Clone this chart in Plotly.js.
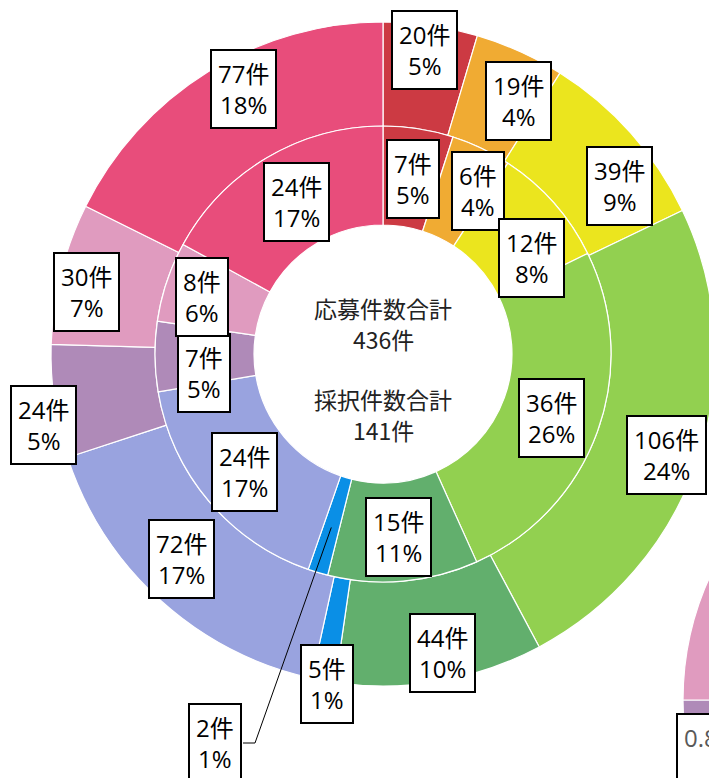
<!DOCTYPE html>
<html>
<head>
<meta charset="utf-8">
<script src="https://cdn.plot.ly/plotly-3.0.1.min.js"></script>
<style>
html,body{margin:0;padding:0;width:709px;height:778px;overflow:hidden;background:#ffffff;}
#chart{position:absolute;left:0;top:0;}
</style>
</head>
<body>
<div id="chart"></div>
<script>
// ---------------- data ----------------
const categories = ['区分1','区分2','区分3','区分4','区分5','区分6','区分7','区分8','区分9','区分10'];
const appliedCounts = [20, 19, 39, 106, 44, 5, 72, 24, 30, 77];
const appliedPct = ['5%', '4%', '9%', '24%', '10%', '1%', '17%', '5%', '7%', '18%'];
const adoptedCounts = [7, 6, 12, 36, 15, 2, 24, 7, 8, 24];
const adoptedPct = ['5%', '4%', '8%', '26%', '11%', '1%', '17%', '5%', '6%', '17%'];
// partly visible neighbouring chart (right edge), estimated shares
const sideShares = [5, 4, 9, 24, 10, 1, 17, 5, 7, 18];
const sideLabelText = '0.8%';
const appliedTitle = '応募件数合計';
const adoptedTitle = '採択件数合計';
const unit = '件';

// ---------------- styles / geometry ----------------
const colors = ['#CC3A43', '#F0AB33', '#EBE51E', '#92D050', '#62AF6D', '#0A8FE6', '#99A3DF', '#AF8AB8', '#E09BBF', '#E84D7B'];
const W = 1300, H = 1000;
const C = {x: 383, y: 354};
const R_OUT = 332, R_MID = 228, R_HOLE = 129;
const SIDE = {x: 980, y: 700, r: 297};
// label placement: [radius px, angle offset deg]
const outerPlace = [[307,-0.4],[287,3.9],[290,6.4],[301,1.4],[305,-1.3],[335,-0.7],[288,2.4],[347,-3.5],[303,-2.2],[299,4]];
const innerPlace = [[178,0.8],[189,4.6],[177,8.7],[180,1.1],[184,0.3],[181,0],[182,-0.3],[180,-5.4],[190,-1],[175,1.1]];
const calloutIndex = 5;
const calloutBox = {x: 215, y: 743, right: 243, elbow: 255};

const px2x = p => p / W;
const py2y = p => 1 - p / H;
function dom(cx, cy, r) {
  return {x: [px2x(cx - r), px2x(cx + r)], y: [py2y(cy + r), py2y(cy - r)]};
}
function midAngles(vals) {
  const tot = vals.reduce((a, b) => a + b, 0);
  let cum = 0;
  return vals.map(v => { const m = (cum + v / 2) / tot * 360; cum += v; return m; });
}
function polar(r, deg) {
  const a = deg * Math.PI / 180;
  return {x: C.x + r * Math.sin(a), y: C.y - r * Math.cos(a)};
}
const sum = a => a.reduce((x, y) => x + y, 0);

const lineStyle = {color: '#ffffff', width: 1.2};
const traces = [
  {type: 'pie', labels: categories, values: appliedCounts, sort: false, direction: 'clockwise', rotation: 0,
   hole: R_MID / R_OUT, domain: dom(C.x, C.y, R_OUT), marker: {colors: colors, line: lineStyle},
   textinfo: 'none', hoverinfo: 'skip', showlegend: false},
  {type: 'pie', labels: categories, values: adoptedCounts, sort: false, direction: 'clockwise', rotation: 0,
   hole: R_HOLE / R_MID, domain: dom(C.x, C.y, R_MID), marker: {colors: colors, line: lineStyle},
   textinfo: 'none', hoverinfo: 'skip', showlegend: false},
  {type: 'pie', labels: categories, values: sideShares, sort: false, direction: 'clockwise', rotation: 0,
   hole: 0.68, domain: dom(SIDE.x, SIDE.y, SIDE.r), marker: {colors: colors, line: lineStyle},
   textinfo: 'none', hoverinfo: 'skip', showlegend: false}
];

const labelFont = {family: 'Open Sans, Noto Sans CJK JP, sans-serif', size: 24, color: '#000000'};
function boxAnn(p, text) {
  return {xref: 'paper', yref: 'paper', x: px2x(p.x), y: py2y(p.y), xanchor: 'center', yanchor: 'middle',
    text: text, showarrow: false, font: labelFont, bgcolor: '#ffffff', bordercolor: '#000000',
    borderwidth: 2, borderpad: 6, align: 'center'};
}
const annotations = [];
const shapes = [];
const outerMid = midAngles(appliedCounts);
appliedCounts.forEach((v, i) => {
  const p = polar(outerPlace[i][0], outerMid[i] + outerPlace[i][1]);
  annotations.push(boxAnn(p, v + unit + '<br>' + appliedPct[i]));
});
const innerMid = midAngles(adoptedCounts);
adoptedCounts.forEach((v, i) => {
  const p = polar(innerPlace[i][0], innerMid[i] + innerPlace[i][1]);
  const txt = v + unit + '<br>' + adoptedPct[i];
  if (i === calloutIndex) {
    annotations.push(boxAnn({x: calloutBox.x, y: calloutBox.y}, txt));
    shapes.push({type: 'path', xref: 'paper', yref: 'paper',
      path: `M ${px2x(calloutBox.right)} ${py2y(calloutBox.y)} L ${px2x(calloutBox.elbow)} ${py2y(calloutBox.y)} L ${px2x(p.x)} ${py2y(p.y)}`,
      line: {color: '#000000', width: 1}});
  } else {
    annotations.push(boxAnn(p, txt));
  }
});
// centre texts
const centerFont = {family: 'Noto Sans CJK JP, sans-serif', size: 23, color: '#222222'};
const centerLines = [[appliedTitle, -46], [sum(appliedCounts) + unit, -15], [adoptedTitle, 45], [sum(adoptedCounts) + unit, 76]];
centerLines.forEach(([t, dy]) => {
  annotations.push({xref: 'paper', yref: 'paper', x: px2x(C.x), y: py2y(C.y + dy), xanchor: 'center', yanchor: 'middle',
    text: t, showarrow: false, font: centerFont});
});
// side chart label (cut off by the frame, as in the reference)
annotations.push({xref: 'paper', yref: 'paper', x: px2x(676), y: py2y(713), xanchor: 'left', yanchor: 'top',
  text: sideLabelText + '<br> ', showarrow: false,
  font: {family: 'Open Sans, Noto Sans CJK JP, sans-serif', size: 24, color: '#595959'},
  bgcolor: '#ffffff', bordercolor: '#000000', borderwidth: 2, borderpad: 6});

const layout = {
  width: W, height: H, margin: {l: 0, r: 0, t: 0, b: 0},
  paper_bgcolor: '#ffffff', plot_bgcolor: '#ffffff', showlegend: false,
  annotations: annotations, shapes: shapes
};
Plotly.newPlot('chart', traces, layout, {displayModeBar: false, staticPlot: true});
</script>
</body>
</html>
